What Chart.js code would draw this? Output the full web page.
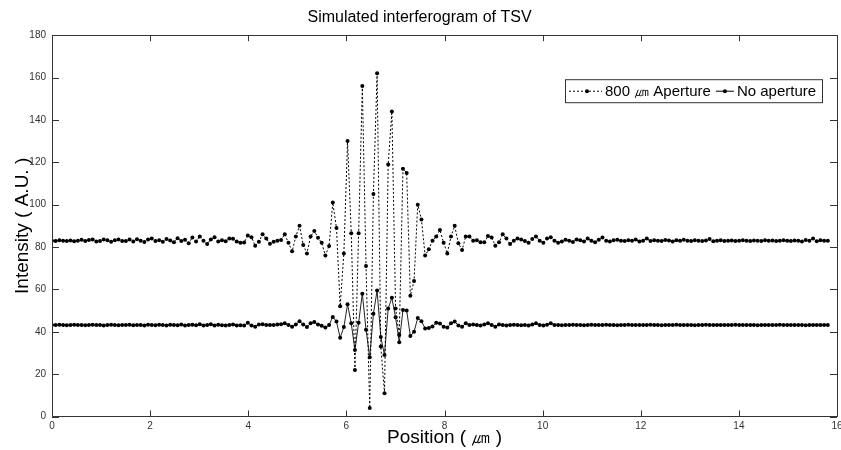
<!DOCTYPE html>
<html>
<head>
<meta charset="utf-8">
<script src="https://cdn.jsdelivr.net/npm/chart.js@4.4.0/dist/chart.umd.min.js"></script>
<style>
  html, body { margin: 0; padding: 0; background: #fff; }
  #chart { display: block; }
</style>
</head>
<body>
<canvas id="chart" width="841" height="450"></canvas>
<script>
// sampling step along the position axis (um)
const positionStep = 0.0753;

// Intensity with the 800 um aperture (dotted line)
const withAperture = [
    83.0, 82.8, 83.2, 83.0, 82.9, 83.1, 82.7, 83.0, 83.4, 82.8,
    83.3, 83.5, 82.6, 82.9, 83.6, 83.2, 82.5, 83.2, 83.5, 82.8,
    82.9, 83.5, 82.6, 83.7, 83.0, 82.4, 83.6, 84.0, 82.8, 83.2,
    82.5, 83.8, 83.1, 82.3, 84.2, 82.9, 83.4, 81.8, 84.5, 82.6,
    85.0, 83.0, 81.4, 83.6, 84.6, 82.6, 83.2, 82.7, 84.0, 83.9,
    82.6, 82.0, 82.1, 85.4, 84.6, 80.6, 82.5, 86.0, 84.0, 81.6,
    82.5, 83.0, 83.3, 86.0, 82.0, 78.0, 85.0, 90.0, 81.0, 77.0,
    85.0, 87.6, 84.4, 82.0, 76.0, 80.5, 101.0, 89.0, 52.0, 77.0,
    130.0, 86.5, 22.0, 86.5, 156.0, 71.0, 4.0, 105.0, 162.0, 33.0,
    11.0, 119.0, 144.0, 51.0, 38.5, 117.0, 115.0, 57.0, 64.0, 100.0,
    93.0, 76.0, 79.0, 83.0, 85.0, 88.0, 82.0, 77.0, 85.0, 90.0,
    81.8, 78.6, 85.0, 85.0, 83.0, 83.2, 82.3, 82.2, 85.2, 84.5,
    80.6, 82.2, 86.0, 84.0, 81.4, 83.0, 84.0, 83.6, 82.8, 82.0,
    83.8, 85.0, 83.0, 82.0, 84.0, 84.6, 83.0, 82.0, 82.6, 83.4,
    83.0, 82.4, 83.6, 83.2, 82.6, 84.0, 83.0, 82.3, 83.4, 84.5,
    83.0, 82.6, 83.2, 83.4, 83.0, 82.8, 83.2, 83.0, 83.5, 82.6,
    83.0, 84.0, 82.8, 83.2, 83.0, 82.9, 83.3, 83.1, 82.6, 83.2,
    83.0, 83.4, 83.0, 82.8, 83.2, 83.0, 82.9, 83.1, 83.8, 82.7,
    83.0, 83.2, 82.9, 83.0, 83.1, 82.8, 83.0, 83.2, 83.0, 82.9,
    83.1, 83.0, 82.8, 83.2, 83.0, 83.1, 82.9, 83.0, 83.2, 83.0,
    82.9, 83.1, 83.0, 82.6, 83.3, 83.0, 84.0, 82.7, 83.2, 83.0,
    83.0
];

// Intensity without aperture (solid line)
const noAperture = [
    43.2, 43.2, 43.3, 43.2, 43.1, 43.2, 43.3, 43.2, 43.2, 43.1,
    43.2, 43.3, 43.2, 43.2, 43.0, 43.2, 43.3, 43.2, 43.1, 43.2,
    43.2, 43.3, 43.1, 43.2, 43.2, 43.0, 43.3, 43.2, 43.1, 43.3,
    43.2, 43.0, 43.3, 43.2, 43.1, 43.4, 43.0, 43.2, 43.3, 43.1,
    43.6, 43.0, 43.2, 43.5, 42.9, 43.3, 43.1, 43.0, 43.2, 43.4,
    43.0, 43.1, 42.9, 44.2, 43.0, 42.4, 43.4, 43.6, 43.2, 43.2,
    43.2, 43.4, 43.6, 44.0, 43.2, 42.4, 43.4, 45.0, 43.4, 42.2,
    44.0, 44.6, 43.4, 42.8, 42.0, 43.2, 47.0, 44.8, 37.2, 42.2,
    53.0, 44.0, 31.4, 44.3, 58.0, 41.0, 28.0, 48.5, 59.5, 37.5,
    29.0, 51.0, 56.0, 46.8, 35.0, 50.3, 50.0, 38.0, 40.0, 46.5,
    45.0, 41.6, 41.8, 42.5, 44.3, 43.9, 42.4, 42.0, 44.0, 44.8,
    43.0, 42.4, 44.0, 43.2, 43.4, 43.2, 43.0, 43.4, 44.0, 43.2,
    42.4, 43.4, 43.2, 43.0, 43.2, 43.3, 43.2, 43.1, 43.2, 43.0,
    43.4, 44.0, 43.2, 43.0, 43.3, 44.0, 43.2, 43.2, 43.1, 43.2,
    43.2, 43.3, 43.2, 43.2, 43.1, 43.2, 43.3, 43.2, 43.2, 43.2,
    43.3, 43.2, 43.2, 43.1, 43.2, 43.2, 43.3, 43.2, 43.2, 43.2,
    43.2, 43.2, 43.3, 43.2, 43.2, 43.1, 43.2, 43.2, 43.2, 43.3,
    43.2, 43.2, 43.2, 43.2, 43.1, 43.2, 43.2, 43.3, 43.2, 43.2,
    43.2, 43.2, 43.2, 43.2, 43.2, 43.3, 43.2, 43.2, 43.2, 43.2,
    43.2, 43.1, 43.2, 43.2, 43.2, 43.2, 43.2, 43.3, 43.2, 43.2,
    43.2, 43.2, 43.2, 43.2, 43.1, 43.2, 43.2, 43.2, 43.2, 43.2,
    43.2
];

const positions = withAperture.map((_, i) => +(i * positionStep).toFixed(4));

const xTickValues = [0, 2, 4, 6, 8, 10, 12, 14, 16];
const yTickValues = [0, 20, 40, 60, 80, 100, 120, 140, 160, 180];
const seriesLabels = ['800 \u339B Aperture', 'No aperture'];

const FONT = "'Liberation Sans', Arial, sans-serif";
const TICK_FONT = "'Liberation Sans Narrow', 'Liberation Sans', Arial, sans-serif";

// box around the plot with inward ticks on all four sides
const framePlugin = {
    id: 'frame',
    afterDraw(chart) {
        const { ctx, chartArea: a, scales: { x, y } } = chart;
        ctx.save();
        ctx.strokeStyle = '#333';
        ctx.lineWidth = 1;
        ctx.beginPath();
        ctx.rect(Math.round(a.left) + 0.5, Math.round(a.top) + 0.5,
            Math.round(a.right - a.left), Math.round(a.bottom - a.top));
        x.ticks.forEach(t => {
            const px = Math.round(x.getPixelForValue(t.value)) + 0.5;
            ctx.moveTo(px, a.bottom); ctx.lineTo(px, a.bottom - 6);
            ctx.moveTo(px, a.top); ctx.lineTo(px, a.top + 6);
        });
        y.ticks.forEach(t => {
            const py = Math.round(y.getPixelForValue(t.value)) + 0.5;
            ctx.moveTo(a.left, py); ctx.lineTo(a.left + 7, py);
            ctx.moveTo(a.right, py); ctx.lineTo(a.right - 7, py);
        });
        ctx.stroke();
        ctx.restore();
    }
};

// legend box in the upper right of the plot
const legendPlugin = {
    id: 'boxLegend',
    afterDraw(chart) {
        const { ctx, chartArea: a } = chart;
        const boxLeft = a.right - 272, boxTop = a.top + 44, boxRight = a.right - 15, boxBottom = a.top + 67;
        const midY = (boxTop + boxBottom) / 2;
        ctx.save();
        ctx.fillStyle = '#fff';
        ctx.fillRect(boxLeft, boxTop, boxRight - boxLeft, boxBottom - boxTop);
        ctx.strokeStyle = '#333';
        ctx.lineWidth = 1;
        ctx.strokeRect(boxLeft + 0.5, boxTop + 0.5, boxRight - boxLeft, boxBottom - boxTop);

        ctx.font = '15px ' + FONT;
        ctx.textBaseline = 'middle';
        ctx.textAlign = 'left';
        let cx = boxLeft + 4;
        const samples = [[2, 2], []];
        seriesLabels.forEach((label, i) => {
            const len = i === 0 ? 33 : 18;
            ctx.strokeStyle = '#000';
            ctx.setLineDash(samples[i]);
            ctx.beginPath();
            ctx.moveTo(cx, midY + 0.5);
            ctx.lineTo(cx + len, midY + 0.5);
            ctx.stroke();
            ctx.setLineDash([]);
            ctx.fillStyle = '#000';
            ctx.beginPath();
            ctx.arc(cx + (i === 0 ? 18 : 9), midY + 0.5, 2, 0, Math.PI * 2);
            ctx.fill();
            cx += len + 3;
            ctx.fillText(label, cx, midY + 1);
            cx += ctx.measureText(label).width + 5;
        });
        ctx.restore();
    }
};

const ctx = document.getElementById('chart').getContext('2d');
const chart = new Chart(ctx, {
    type: 'line',
    data: {
        datasets: [{
            label: seriesLabels[0],
            data: positions.map((x, i) => ({ x: x, y: withAperture[i] })),
            borderColor: '#000',
            borderWidth: 1,
            borderDash: [2, 2],
            pointRadius: 2,
            pointBackgroundColor: '#000',
            pointBorderWidth: 0,
            tension: 0
        }, {
            label: seriesLabels[1],
            data: positions.map((x, i) => ({ x: x, y: noAperture[i] })),
            borderColor: '#222',
            borderWidth: 1,
            pointRadius: 2,
            pointBackgroundColor: '#000',
            pointBorderWidth: 0,
            tension: 0
        }]
    },
    options: {
        responsive: false,
        animation: false,
        devicePixelRatio: 1,
        layout: { padding: { right: 2 } },
        plugins: {
            legend: { display: false },
            tooltip: { enabled: false },
            title: {
                display: true,
                text: 'Simulated interferogram of TSV',
                color: '#000',
                font: { family: FONT, size: 16, weight: 'normal' },
                padding: { top: 8, bottom: 8 }
            }
        },
        scales: {
            x: {
                type: 'linear',
                min: 0,
                max: 16,
                afterBuildTicks: s => { s.ticks = xTickValues.map(v => ({ value: v })); },
                afterFit: s => { s.height = 33.5; s.paddingLeft = 0; s.paddingRight = 0; },
                grid: { display: false, drawTicks: false },
                border: { display: false },
                ticks: {
                    padding: 4, maxRotation: 0, autoSkip: false, color: '#333',
                    font: { family: TICK_FONT, size: 10 }
                },
                title: {
                    display: true,
                    text: 'Position ( \u339B )',
                    color: '#000',
                    font: { family: FONT, size: 19 },
                    padding: { top: 0, bottom: 1 }
                }
            },
            y: {
                type: 'linear',
                min: 0,
                max: 180,
                afterBuildTicks: s => { s.ticks = yTickValues.map(v => ({ value: v })); },
                afterFit: s => { s.width = 52; s.paddingTop = 0; s.paddingBottom = 0; },
                grid: { display: false, drawTicks: false },
                border: { display: false },
                ticks: {
                    padding: 6, autoSkip: false, color: '#333',
                    font: { family: TICK_FONT, size: 10 }
                },
                title: {
                    display: true,
                    text: 'Intensity ( A.U. )',
                    color: '#000',
                    font: { family: FONT, size: 19 },
                    padding: { top: 11, bottom: 0 }
                }
            }
        }
    },
    plugins: [framePlugin, legendPlugin]
});
</script>
</body>
</html>
